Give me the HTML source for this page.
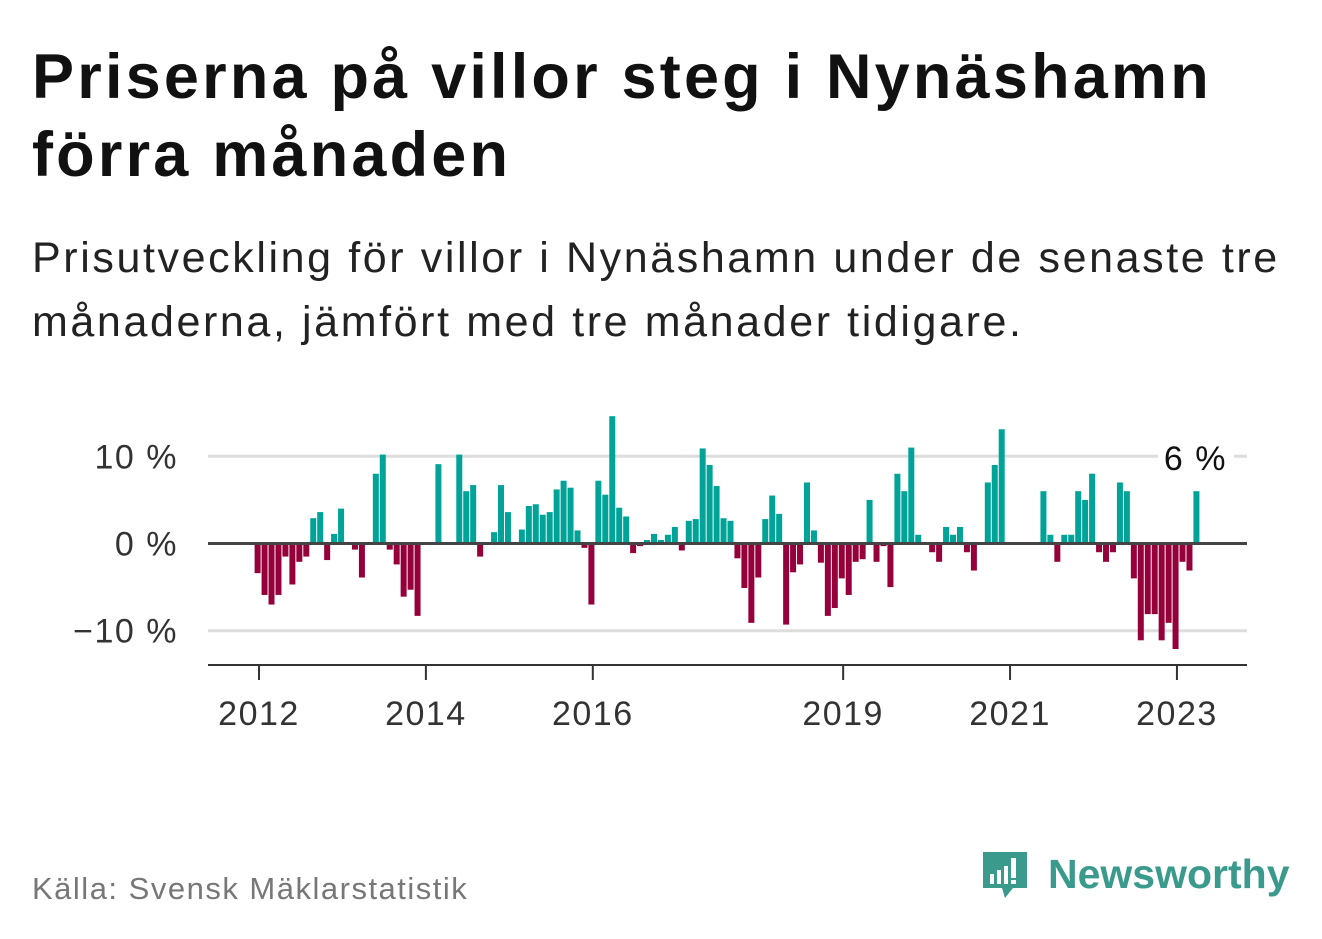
<!DOCTYPE html>
<html><head><meta charset="utf-8">
<style>
body{margin:0;background:#fff;width:1322px;height:939px;overflow:hidden;font-family:"Liberation Sans",sans-serif;}
#title{position:absolute;left:32px;top:38px;margin:0;font-size:63px;font-weight:bold;line-height:78px;color:#111;letter-spacing:3.2px;white-space:nowrap}
#sub{position:absolute;left:32px;top:226px;margin:0;font-size:43px;line-height:64px;color:#222;letter-spacing:2.6px;white-space:nowrap}
#src{position:absolute;left:32px;top:871px;font-size:31px;color:#777;letter-spacing:1.5px;white-space:nowrap}
#logo{position:absolute;left:980px;top:848px;}
</style></head><body>
<h1 id="title">Priserna på villor steg i Nynäshamn<br>förra månaden</h1>
<p id="sub">Prisutveckling för villor i Nynäshamn under de senaste tre<br>månaderna, jämfört med tre månader tidigare.</p>
<svg id="chart" width="1322" height="939" style="position:absolute;left:0;top:0"></svg>
<div id="src">Källa: Svensk Mäklarstatistik</div>
<div id="logo">
<svg width="330" height="65">
<path d="M3 4 h44 v36 h-14 l-8 10 l-3 -10 h-19 z" fill="#3a9a8c"/>
<rect x="10" y="26" width="4" height="10" fill="#fff"/><rect x="17" y="22" width="4" height="14" fill="#fff"/><rect x="24" y="18" width="4" height="18" fill="#fff"/><rect x="31" y="10" width="5" height="20" fill="#fff"/><rect x="31" y="32" width="5" height="4" fill="#fff"/>
<text x="68" y="40" font-family="Liberation Sans, sans-serif" font-size="41" font-weight="bold" fill="#3a9a8c">Newsworthy</text>
</svg></div>
<script>
const startYear = 2012;
const values = [-3.4,-5.9,-7.0,-5.9,-1.5,-4.7,-2.1,-1.5,2.9,3.6,-1.9,1.1,4.0,null,-0.7,-3.9,null,8.0,10.2,-0.7,-2.4,-6.1,-5.3,-8.3,null,null,9.1,null,null,10.2,6.0,6.7,-1.5,null,1.3,6.7,3.6,null,1.6,4.3,4.5,3.3,3.6,6.2,7.2,6.4,1.5,-0.5,-7.0,7.2,5.6,14.6,4.1,3.1,-1.1,-0.3,0.4,1.1,0.4,1.0,1.9,-0.8,2.6,2.8,10.9,9.0,6.6,2.9,2.6,-1.7,-5.1,-9.1,-3.9,2.8,5.5,3.4,-9.3,-3.3,-2.4,7.0,1.5,-2.2,-8.3,-7.4,-4.0,-5.9,-2.1,-1.8,5.0,-2.1,-0.3,-5.0,8.0,6.0,11.0,1.0,null,-1.0,-2.1,1.9,1.0,1.9,-1.0,-3.1,null,7.0,9.0,13.1,null,null,null,null,null,6.0,1.0,-2.1,1.0,1.0,6.0,5.0,8.0,-1.0,-2.1,-1.0,7.0,6.0,-4.0,-11.1,-8.1,-8.1,-11.1,-9.1,-12.1,-2.1,-3.1,6.0];
const yTicks = [10,0,-10];
const yTickLabels = ["10 %","0 %","−10 %"];
const xTicks = [2012,2014,2016,2019,2021,2023];
const lastLabel = "6 %";

const NS="http://www.w3.org/2000/svg";
const svg=document.getElementById('chart');
const x=t=>259+(t-startYear)*83.45;
const y=v=>543.5-v*8.72;
function mk(tag,attrs){const e=document.createElementNS(NS,tag);for(const k in attrs)e.setAttribute(k,attrs[k]);svg.appendChild(e);return e;}
yTicks.forEach((v,i)=>{
  if(v!==0){const g=mk('line',{x1:208,x2:1247,y1:y(v),y2:y(v),stroke:'#ddd','stroke-width':3});
  
  }
  const t=mk('text',{x:178,y:y(v)+12,'text-anchor':'end','font-size':34,'letter-spacing':1.5,fill:'#333','font-family':'Liberation Sans, sans-serif'});
  t.textContent=yTickLabels[i];
  
  
});
values.forEach((v,i)=>{
  if(v===null)return;
  const cx=x(startYear+(i-0.2)/12);
  const r=mk('rect',{x:cx-3,width:6,y:v>=0?y(v):y(0),height:Math.abs(y(v)-y(0)),fill:v>=0?'#00a398':'#95003b'});
  
  
});
const z=mk('line',{x1:208,x2:1247,y1:y(0),y2:y(0),stroke:'#444','stroke-width':3});


const ax=mk('line',{x1:208,x2:1247,y1:665,y2:665,stroke:'#333','stroke-width':2});


xTicks.forEach(yr=>{
  const tk=mk('line',{x1:x(yr),x2:x(yr),y1:665,y2:680,stroke:'#333','stroke-width':2});
  
  
  const t=mk('text',{x:x(yr),y:725,'text-anchor':'middle','font-size':34,'letter-spacing':1.5,fill:'#333','font-family':'Liberation Sans, sans-serif'});
  t.textContent=yr;
  
  
});
const bg=mk('rect',{x:1158,y:440,width:76,height:34,fill:'#fff'});


const lv=mk('text',{x:1227,y:470,'text-anchor':'end','font-size':34,'letter-spacing':1.5,fill:'#111','font-family':'Liberation Sans, sans-serif'});
lv.textContent=lastLabel;


</script>
</body></html>
